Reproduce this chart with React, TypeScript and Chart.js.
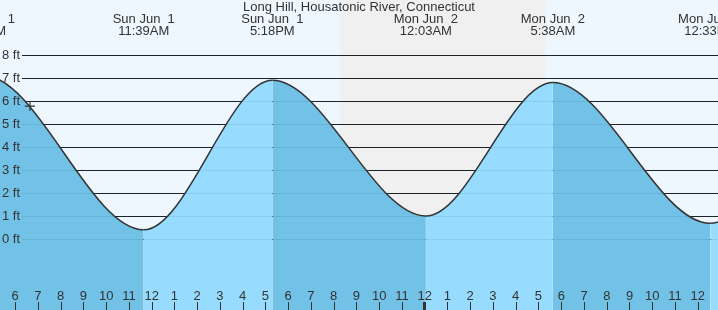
import React, { useEffect, useRef } from 'react';
import { Chart, registerables } from 'chart.js';

Chart.register(...registerables);

const titleText = 'Long Hill, Housatonic River, Connecticut';

// Tide extremes: hours since Sun Jun 1 00:00, level in ft
const tideHours = [-0.8, 4.62, 11.65, 17.3, 24.05, 29.633, 36.55, 42.8, 49.1];
const tideLevels = [0.5, 7.1, 0.4, 6.9, 1.0, 6.8, 0.68, 7.0, 0.9];
const tideDays = ['Sat May 31', 'Sun Jun  1', 'Sun Jun  1', 'Sun Jun  1', 'Mon Jun  2', 'Mon Jun  2', 'Mon Jun  2', 'Mon Jun  2', 'Tue Jun  3'];
const tideTimes = ['11:12PM', '4:37AM', '11:39AM', '5:18PM', '12:03AM', '5:38AM', '12:33PM', '6:48PM', '1:06AM'];

const levelTicks = [0, 1, 2, 3, 4, 5, 6, 7, 8];
const levelLabels = ['0 ft', '1 ft', '2 ft', '3 ft', '4 ft', '5 ft', '6 ft', '7 ft', '8 ft'];

const hourTicks = [6, 7, 8, 9, 10, 11, 12, 13, 14, 15, 16, 17, 18, 19, 20, 21, 22, 23, 24, 25, 26, 27, 28, 29, 30, 31, 32, 33, 34, 35, 36];
const hourLabels = ['6', '7', '8', '9', '10', '11', '12', '1', '2', '3', '4', '5', '6', '7', '8', '9', '10', '11', '12', '1', '2', '3', '4', '5', '6', '7', '8', '9', '10', '11', '12'];

const nightStart = 20.28;
const nightEnd = 29.33;
const nowHour = 6.65;
const nowLevel = 5.78;

const viewStart = 5.332;
const viewEnd = 36.89;
const levelMin = -3.087;
const levelMax = 10.391;

const DAY_BG = '#EEF7FE';
const NIGHT_BG = '#F0F0F0';
const FALL_FILL = '#72C1E6';
const RISE_FILL = '#97DCFE';
const INK = '#333333';
const FONT = '13px "Liberation Sans", Arial, sans-serif';

export default function App() {
  const canvasRef = useRef<HTMLCanvasElement | null>(null);

  useEffect(() => {
    document.body.style.margin = '0';
    const canvas = canvasRef.current;
    if (!canvas) return;

    const decorPlugin = {
      id: 'tideDecor',
      beforeDraw(chart: any) {
        const { ctx, chartArea } = chart;
        const xs = chart.scales.x;
        const ys = chart.scales.y;
        ctx.save();
        ctx.fillStyle = DAY_BG;
        ctx.fillRect(chartArea.left, chartArea.top, chartArea.right - chartArea.left, chartArea.bottom - chartArea.top);
        const n0 = xs.getPixelForValue(nightStart);
        const n1 = xs.getPixelForValue(nightEnd);
        ctx.fillStyle = NIGHT_BG;
        ctx.fillRect(n0, chartArea.top, n1 - n0, chartArea.bottom - chartArea.top);
        ctx.strokeStyle = '#222222';
        ctx.lineWidth = 1;
        for (const v of levelTicks) {
          const y = Math.round(ys.getPixelForValue(v)) + 0.5;
          ctx.beginPath();
          ctx.moveTo(22, y);
          ctx.lineTo(chartArea.right, y);
          ctx.stroke();
        }
        ctx.restore();
      },
      beforeDatasetsDraw(chart: any) {
        const { ctx, chartArea } = chart;
        const ys = chart.scales.y;
        ctx.save();
        ctx.strokeStyle = 'rgba(0,50,90,0.09)';
        ctx.lineWidth = 1;
        for (const v of levelTicks) {
          const y = Math.round(ys.getPixelForValue(v)) + 0.5;
          ctx.beginPath();
          ctx.moveTo(22, y);
          ctx.lineTo(chartArea.right, y);
          ctx.stroke();
        }
        ctx.restore();
      },
      afterDraw(chart: any) {
        const { ctx, chartArea } = chart;
        const xs = chart.scales.x;
        const ys = chart.scales.y;
        ctx.save();
        ctx.font = FONT;
        ctx.fillStyle = INK;
        ctx.textBaseline = 'middle';
        ctx.textAlign = 'center';
        ctx.fillText(titleText, (chartArea.left + chartArea.right) / 2, 7);
        tideHours.forEach((h, i) => {
          const x = xs.getPixelForValue(h);
          ctx.fillText(tideDays[i], x, 19.5);
          ctx.fillText(tideTimes[i], x, 31.5);
        });
        ctx.textAlign = 'right';
        levelTicks.forEach((v, i) => {
          ctx.fillText(levelLabels[i], 20, ys.getPixelForValue(v) + 0.5);
        });
        ctx.textAlign = 'center';
        ctx.strokeStyle = INK;
        hourTicks.forEach((h, i) => {
          const x = xs.getPixelForValue(h);
          ctx.fillText(hourLabels[i], x, 296);
          if (h % 24 === 0) {
            ctx.fillRect(Math.round(x) - 2, 302, 3, chartArea.bottom - 302);
          } else {
            ctx.beginPath();
            ctx.lineWidth = 1;
            ctx.moveTo(Math.round(x) + 0.5, 302);
            ctx.lineTo(Math.round(x) + 0.5, chartArea.bottom);
            ctx.stroke();
          }
        });
        ctx.restore();
      },
    };

    const chart = new Chart(canvas, {
      type: 'line',
      data: {
        datasets: [
          {
            label: 'now',
            data: [{ x: nowHour, y: nowLevel }],
            showLine: false,
            fill: false,
            pointStyle: 'cross',
            pointRadius: 5,
            pointBorderWidth: 1.2,
            pointBorderColor: INK,
            order: 0,
          },
          {
            label: 'tide',
            data: tideHours.map((h, i) => ({ x: h, y: tideLevels[i] })),
            borderColor: INK,
            borderWidth: 1.5,
            backgroundColor: FALL_FILL,
            fill: 'start',
            cubicInterpolationMode: 'monotone',
            pointRadius: 0,
            order: 1,
            segment: {
              backgroundColor: (c: any) => (c.p1.parsed.y > c.p0.parsed.y ? RISE_FILL : FALL_FILL),
            },
          },
        ],
      },
      options: {
        responsive: false,
        animation: false,
        devicePixelRatio: 1,
        layout: { padding: 0, autoPadding: false },
        scales: {
          x: { type: 'linear', min: viewStart, max: viewEnd, display: false },
          y: { type: 'linear', min: levelMin, max: levelMax, display: false },
        },
        plugins: {
          legend: { display: false },
          tooltip: { enabled: false },
          filler: { drawTime: 'beforeDatasetsDraw' },
        },
      },
      plugins: [decorPlugin],
    } as any);

    return () => chart.destroy();
  }, []);

  return (
    <div style={{ width: 718, height: 310 }}>
      <canvas ref={canvasRef} width={718} height={310} style={{ display: 'block', width: 718, height: 310 }} />
    </div>
  );
}
